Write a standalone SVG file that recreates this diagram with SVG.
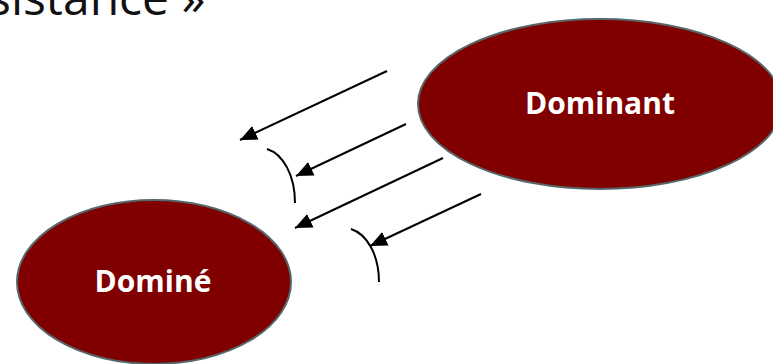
<svg xmlns="http://www.w3.org/2000/svg" width="773" height="364" viewBox="0 0 773 364">
  <style>
    .node { fill: #800000; stroke: #56666a; stroke-width: 2; }
    .label { font-family: "Open Sans", "DejaVu Sans", sans-serif; font-weight: bold; font-size: 30px; fill: #ffffff; text-anchor: middle; }
    .title { font-family: "Open Sans", "DejaVu Sans", sans-serif; font-size: 48px; fill: #111111; }
    .arrow { fill: none; stroke: #000000; stroke-width: 2; marker-end: url(#head); }
    .arc { fill: none; stroke: #000000; stroke-width: 2; }
  </style>
  <defs>
    <marker id="head" markerUnits="userSpaceOnUse" markerWidth="18" markerHeight="16" refX="17" refY="7.5" orient="auto">
      <path d="M0,0 L17,7.5 L0,15 z" fill="#000000"/>
    </marker>
  </defs>
  <rect width="773" height="364" fill="#ffffff"/>
  <text class="title" x="-12" y="15">sistance »</text>
  <g id="dominant">
    <ellipse class="node" cx="600" cy="104" rx="182" ry="85"/>
    <text class="label" x="600" y="114">Dominant</text>
  </g>
  <g id="domine">
    <ellipse class="node" cx="154" cy="282" rx="137" ry="82"/>
    <text class="label" x="153" y="292">Dominé</text>
  </g>
  <g id="connectors">
    <path class="arrow" d="M387,71 L240,140"/>
    <path class="arrow" d="M406,124 L296,176"/>
    <path class="arrow" d="M443,158 L295,228"/>
    <path class="arrow" d="M481,194 L370,246"/>
    <path class="arc" d="M267,149 C283,154 295,175 295,203"/>
    <path class="arc" d="M351,229 C367,234 379,255 379,282"/>
  </g>
</svg>
